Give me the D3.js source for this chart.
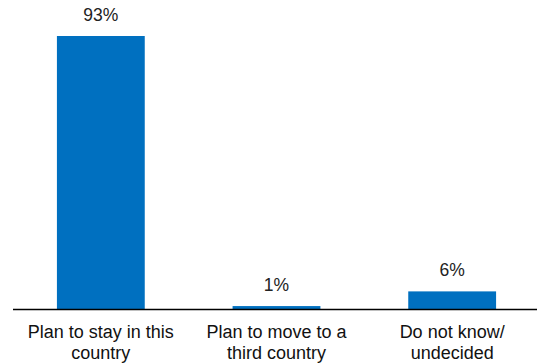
<!DOCTYPE html>
<html><head><meta charset="utf-8">
<script src="https://cdn.jsdelivr.net/npm/d3@7/dist/d3.min.js"></script>
<style>body{margin:0;background:#fff;}svg{display:block;}</style>
</head><body>
<svg id="c" width="537" height="363"></svg>
<script>
const categories = [["Plan to stay in this","country"],["Plan to move to a","third country"],["Do not know/","undecided"]];
const values = [93, 1, 6];
const labels = ["93%", "1%", "6%"];

const svg = d3.select("#c");
const x = d3.scaleBand().domain(d3.range(categories.length)).range([13, 540]).paddingInner(0.5).paddingOuter(0.25);
const y = d3.scaleLinear().domain([0, 93]).range([309, 36]);

svg.selectAll("rect.bar").data(values).join("rect")
  .attr("class","bar")
  .attr("x", (d,i)=>x(i)).attr("width", x.bandwidth())
  .attr("y", d=>y(d)).attr("height", d=>y(0)-y(d))
  .attr("fill", "#0070C0");

svg.selectAll("text.val").data(values).join("text")
  .attr("class","val")
  .attr("x",(d,i)=>x(i)+x.bandwidth()/2)
  .attr("y", d=>y(d)-15)
  .attr("text-anchor","middle")
  .attr("font-family","Liberation Sans, Arial, sans-serif")
  .attr("font-size","17.5px").attr("fill","#222")
  .text((d,i)=>labels[i]);

svg.append("line").attr("x1",13).attr("x2",540).attr("y1",y(0)+0.5).attr("y2",y(0)+0.5)
  .attr("stroke","#000").attr("stroke-width",1.3);

const cat = svg.selectAll("text.cat").data(categories).join("text")
  .attr("class","cat")
  .attr("text-anchor","middle")
  .attr("font-family","Liberation Sans, Arial, sans-serif")
  .attr("font-size","18px").attr("fill","#111");
cat.each(function(d,i){
  const t = d3.select(this);
  d.forEach((line,j)=>{
    t.append("tspan").attr("x", x(i)+x.bandwidth()/2).attr("y", 337.5 + j*21.5).text(line);
  });
});
</script>
</body></html>
